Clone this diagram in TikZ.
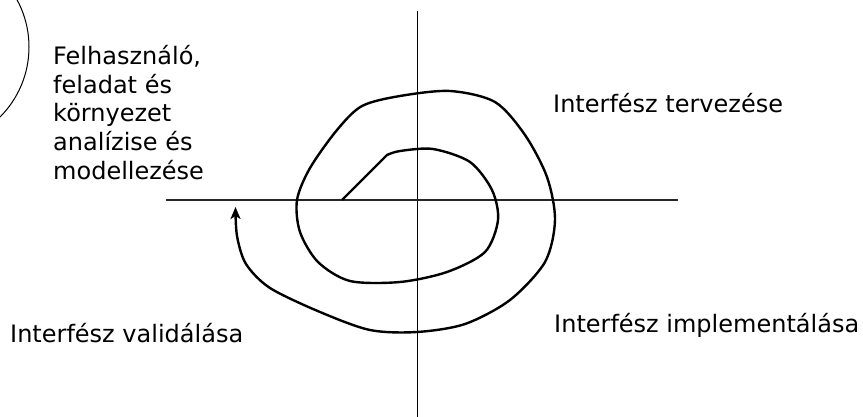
\documentclass[tikz,border=0pt]{standalone}
\usepackage{fontspec}
\setmainfont{DejaVu Sans}
\usetikzlibrary{arrows.meta}
\tikzset{
  phasetext/.style={inner sep=0pt,font=\fontsize{24}{28.7}\selectfont,align=left},
  axisline/.style={draw=black,line width=1pt},
  horizline/.style={draw=black!85,line width=1.8pt},
  spiralline/.style={draw=black,line width=2.4pt,line join=round,
    -{Stealth[length=12pt,width=10pt,inset=3pt]}},
}

\begin{document}
\begin{tikzpicture}[x=1pt,y=-1pt]
  \useasboundingbox (0,0) rectangle (863,417);
  % arc cut by the left edge
  \begin{scope}
    \clip (0,0) rectangle (863,417);
    \draw[line width=1pt] (-70,47) circle[radius=99];
  \end{scope}
  % axes
  \coordinate (vtop) at (417,11);
  \coordinate (vbot) at (417,417);
  \coordinate (hleft) at (166,200);
  \coordinate (hright) at (678,200);
  \draw[axisline] (vtop) -- (vbot);
  \draw[horizline] (hleft) -- (hright);
  % phases
  \node[phasetext,anchor=north west] (analysis) at (53,45)
    {Felhasználó,\\feladat és\\környezet\\analízise és\\modellezése};
  \node[phasetext,anchor=base west] (design) at (553,113) {Interfész tervezése};
  \node[phasetext,anchor=base west] (implement) at (554,332) {Interfész implementálása};
  \node[phasetext,anchor=base west] (validate) at (10,342) {Interfész validálása};
  % spiral
  \coordinate (spiralstart) at (342,200);
  \coordinate (spiraltip) at (235.5,207);
  \draw[spiralline] (spiralstart) -- plot[smooth,tension=0.5] coordinates {
    (387,155) (400,151) (433,149) (470,162) (492,190) (498,220) (485,252)
    (447,272) (400,282) (350,281) (318,262) (300,232) (297,200) (310,168)
    (337,130) (362,106) (400,96) (450,91) (495,102) (525,135) (547,177)
    (555,220) (545,262) (510,300) (465,324) (417,332) (370,330) (320,312)
    (270,288) (246,264) (237,236) (spiraltip)};
\end{tikzpicture}
\end{document}
